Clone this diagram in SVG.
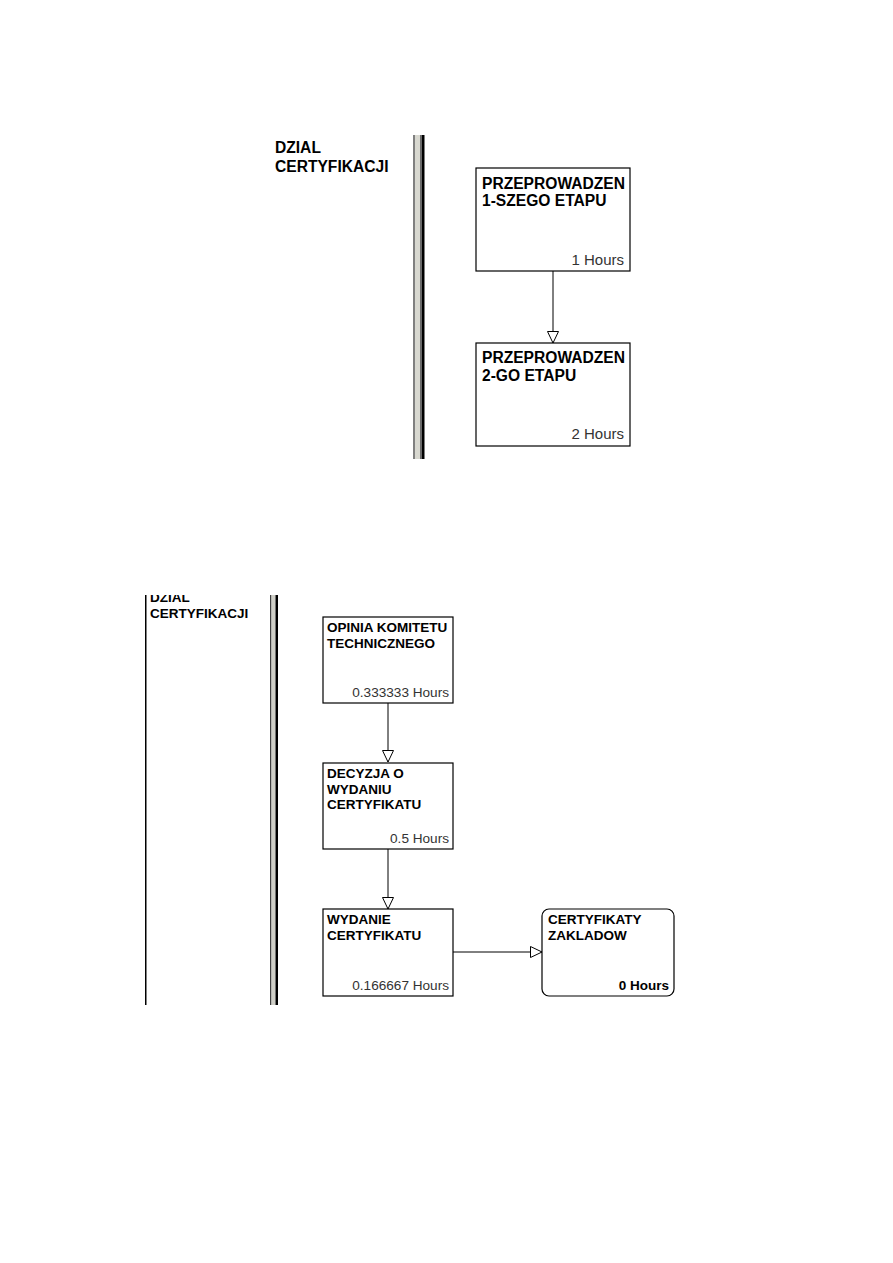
<svg xmlns="http://www.w3.org/2000/svg" width="893" height="1263" viewBox="0 0 893 1263">
<style>
.box{fill:#fff;stroke:#000;stroke-width:1.2}
.lbl{font-family:"Liberation Sans",Arial,sans-serif;font-weight:bold;fill:#000}
.big{font-size:15.6px}
.sm{font-size:13.5px}
.hrs{font-family:"Liberation Sans",Arial,sans-serif;fill:#333;text-anchor:end}
.conn{stroke:#000;stroke-width:1;fill:none}
</style>
<defs>
<marker id="tri" markerWidth="14" markerHeight="14" refX="12" refY="6" orient="auto" markerUnits="userSpaceOnUse">
<path d="M0.5,0.5 L12,6 L0.5,11.5 Z" fill="#fff" stroke="#000" stroke-width="1"/>
</marker>
<clipPath id="clipB"><rect x="140" y="595" width="140" height="420"/></clipPath>
</defs>
<rect width="893" height="1263" fill="#fff"/>

<g id="lane-top">
<text class="lbl big" x="275" y="153">DZIAL</text>
<text class="lbl big" x="275" y="172">CERTYFIKACJI</text>
<rect x="413" y="135" width="2" height="324" fill="#808080"/>
<rect x="415" y="135" width="5" height="324" fill="#d8d8d0"/>
<rect x="420" y="135" width="2" height="324" fill="#6a6a6a"/>
<rect x="422" y="135" width="2.5" height="324" fill="#000"/>
</g>

<g id="lane-bottom">
<rect x="145" y="595" width="1.5" height="410" fill="#000"/>
<g clip-path="url(#clipB)">
<text class="lbl sm" x="150" y="602">DZIAL</text>
</g>
<text class="lbl sm" x="150" y="618">CERTYFIKACJI</text>
<rect x="270" y="595" width="1.5" height="410" fill="#404040"/>
<rect x="271.5" y="595" width="4" height="410" fill="#d0d0c8"/>
<rect x="275.5" y="595" width="2.5" height="410" fill="#000"/>
</g>

<g id="connectors">
<line class="conn" x1="553" y1="271" x2="553" y2="343" marker-end="url(#tri)"/>
<line class="conn" x1="388" y1="703" x2="388" y2="762" marker-end="url(#tri)"/>
<line class="conn" x1="388" y1="849" x2="388" y2="909" marker-end="url(#tri)"/>
<line class="conn" x1="453" y1="952" x2="542" y2="952" marker-end="url(#tri)"/>
</g>

<g id="node-przeprowadzen1">
<rect class="box" x="476" y="168" width="154" height="103"/>
<text class="lbl big" x="482" y="189">PRZEPROWADZEN</text>
<text class="lbl big" x="482" y="206">1-SZEGO ETAPU</text>
<text class="hrs" x="624" y="265" font-size="15">1 Hours</text>
</g>

<g id="node-przeprowadzen2">
<rect class="box" x="476" y="343" width="154" height="103"/>
<text class="lbl big" x="482" y="363">PRZEPROWADZEN</text>
<text class="lbl big" x="482" y="381">2-GO ETAPU</text>
<text class="hrs" x="624" y="439" font-size="15">2 Hours</text>
</g>

<g id="node-opinia">
<rect class="box" x="323" y="617" width="130" height="86"/>
<text class="lbl sm" x="327" y="632">OPINIA KOMITETU</text>
<text class="lbl sm" x="327" y="648">TECHNICZNEGO</text>
<text class="hrs" x="449" y="697" font-size="13.6">0.333333 Hours</text>
</g>

<g id="node-decyzja">
<rect class="box" x="323" y="763" width="130" height="86"/>
<text class="lbl sm" x="327" y="778">DECYZJA O</text>
<text class="lbl sm" x="327" y="794">WYDANIU</text>
<text class="lbl sm" x="327" y="809">CERTYFIKATU</text>
<text class="hrs" x="449" y="843" font-size="13.6">0.5 Hours</text>
</g>

<g id="node-wydanie">
<rect class="box" x="323" y="909" width="130" height="87"/>
<text class="lbl sm" x="327" y="924">WYDANIE</text>
<text class="lbl sm" x="327" y="940">CERTYFIKATU</text>
<text class="hrs" x="449" y="990" font-size="13.6">0.166667 Hours</text>
</g>

<g id="node-certyfikaty">
<rect class="box" x="542" y="909" width="132" height="87" rx="7" ry="7"/>
<text class="lbl sm" x="548" y="924">CERTYFIKATY</text>
<text class="lbl sm" x="548" y="940">ZAKLADOW</text>
<text class="lbl sm" x="669" y="990" text-anchor="end">0 Hours</text>
</g>
</svg>
